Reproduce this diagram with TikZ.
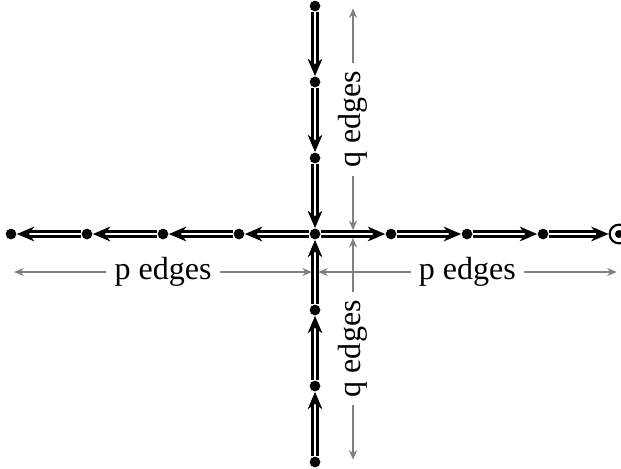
\documentclass[tikz,border=0pt]{standalone}
\usepackage{fontspec}
\setmainfont{Liberation Serif}
\usetikzlibrary{arrows.meta, positioning}
\tikzset{
  vtx/.style    ={circle, fill=black, inner sep=0pt, minimum size=4pt},
  endvtx/.style ={circle, draw=black, fill=white, thick, inner sep=0pt, minimum size=7pt,
                  path picture={\fill[black] (path picture bounding box.center) circle (1.5pt);}},
  dedge/.style  ={-{Stealth[length=6.5pt, width=5.5pt, inset=2pt]}, thick, double, double distance=1.1pt},
  dim/.style    ={{Stealth[length=3.6pt, width=3pt]}-{Stealth[length=3.6pt, width=3pt]}, gray, semithick},
  dimlbl/.style ={fill=white, inner sep=3pt, text=black, font=\fontsize{12}{14}\selectfont},
}
\begin{document}
\begin{tikzpicture}[node distance=1cm, on grid]
    \useasboundingbox (-4.145,-3.079) rectangle (4.026,3.079);
    \node[vtx] (c) at (0,0) {};
    \node[vtx, right=of c] (r1) {};
    \node[vtx, right=of r1] (r2) {};
    \node[vtx, right=of r2] (r3) {};
    \node[endvtx, right=of r3] (r4) {};
    \node[vtx, left=of c] (l1) {};
    \node[vtx, left=of l1] (l2) {};
    \node[vtx, left=of l2] (l3) {};
    \node[vtx, left=of l3] (l4) {};
    \node[vtx, above=of c] (t1) {};
    \node[vtx, above=of t1] (t2) {};
    \node[vtx, above=of t2] (t3) {};
    \node[vtx, below=of c] (b1) {};
    \node[vtx, below=of b1] (b2) {};
    \node[vtx, below=of b2] (b3) {};

    \coordinate (qtop) at (0.5,2.97);
    \coordinate (qmidup) at (0.5,0.05);
    \coordinate (qmiddn) at (0.5,-0.05);
    \coordinate (qbot) at (0.5,-2.97);
    \coordinate (pleft) at (-3.96,-0.5);
    \coordinate (pmidl) at (-0.04,-0.5);
    \coordinate (pmidr) at (0.04,-0.5);
    \coordinate (pright) at (3.97,-0.5);

    % p edges and q edges
    \draw[dim] (qmidup) -- node[dimlbl, rotate=90] {q edges} (qtop);
    \draw[dim] (qbot) -- node[dimlbl, rotate=90] {q edges} (qmiddn);
    \draw[dim] (pleft) -- node[dimlbl] {p edges} (pmidl);
    \draw[dim] (pmidr) -- node[dimlbl] {p edges} (pright);

    \draw[dedge] (t3) -- (t2);
    \draw[dedge] (t2) -- (t1);
    \draw[dedge] (t1) -- (c);
    \draw[dedge] (b3) -- (b2);
    \draw[dedge] (b2) -- (b1);
    \draw[dedge] (b1) -- (c);
    \draw[dedge] (c) -- (r1);
    \draw[dedge] (r1) -- (r2);
    \draw[dedge] (r2) -- (r3);
    \draw[dedge] (r3) -- (r4);
    \draw[dedge] (c) -- (l1);
    \draw[dedge] (l1) -- (l2);
    \draw[dedge] (l2) -- (l3);
    \draw[dedge] (l3) -- (l4);
\end{tikzpicture}
\end{document}
